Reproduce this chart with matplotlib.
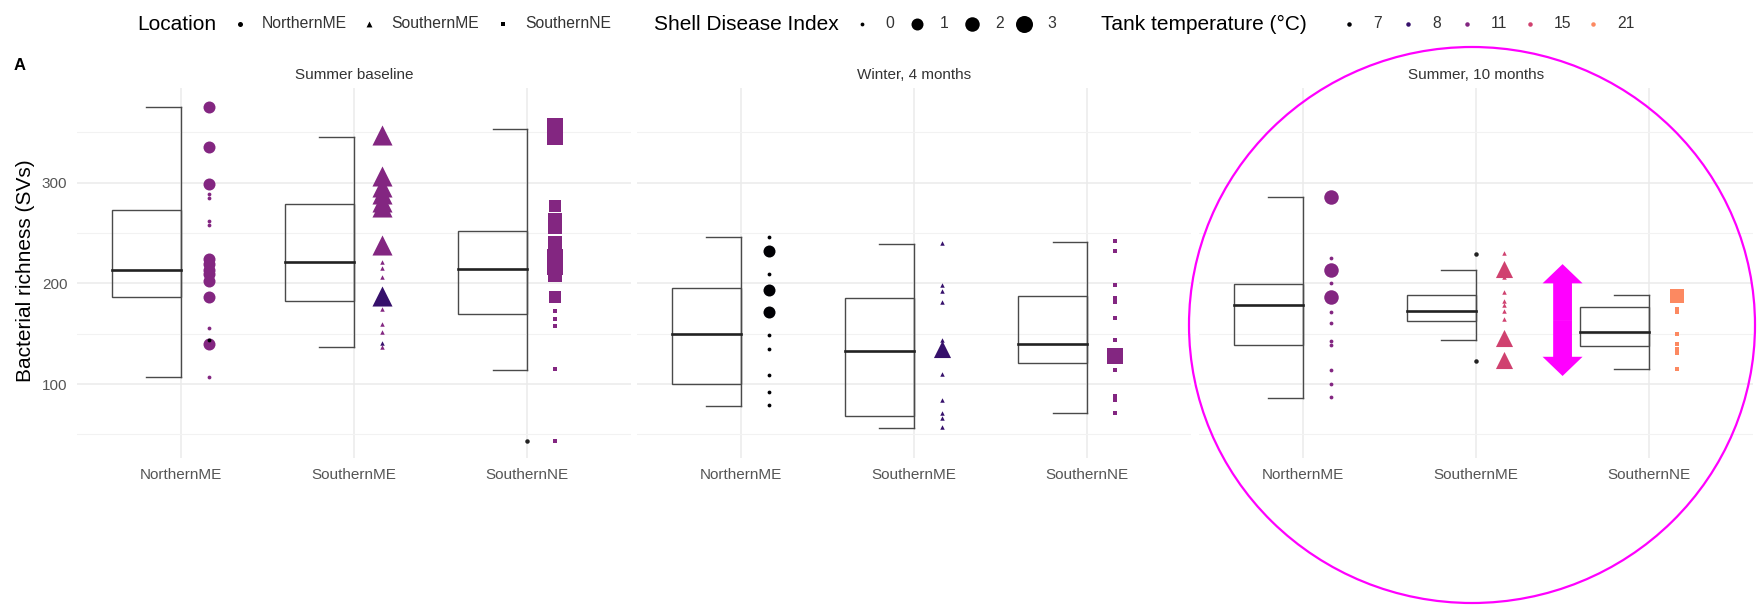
import matplotlib
matplotlib.use("Agg")
import matplotlib.pyplot as plt
from matplotlib.patches import Rectangle, Ellipse
import numpy as np
import pandas as pd

plt.rcParams["font.family"] = ["Liberation Sans", "DejaVu Sans"]

# ---- data -------------------------------------------------------------
panels = ["Summer baseline", "Winter, 4 months", "Summer, 10 months"]
locations = ["NorthernME", "SouthernME", "SouthernNE"]
temps = [7, 8, 11, 15, 21]
sdi_levels = [0, 1, 2, 3]

# half-boxplot stats, rows = panels, cols = locations
box_lo = [[107, 137, 114], [78, 56, 71], [86, 144, 115]]
box_q1 = [[186, 182, 170], [100, 68, 121], [139, 163, 138]]
box_med = [[213, 221, 214], [150, 133, 140], [178, 172, 152]]
box_q3 = [[273, 279, 252], [195, 185, 187], [199, 188, 176]]
box_hi = [[375, 345, 353], [246, 239, 241], [286, 213, 188]]
box_out = [[[], [], [43]], [[], [], []], [[], [229, 123], []]]

# points: (location, richness, shell disease index, tank temperature)
summer_baseline = [
    ("NorthernME", 375, 1, 11), ("NorthernME", 335, 1, 11), ("NorthernME", 299, 1, 11),
    ("NorthernME", 289, 0, 11), ("NorthernME", 285, 0, 11), ("NorthernME", 262, 0, 11),
    ("NorthernME", 258, 0, 11), ("NorthernME", 224, 1, 11), ("NorthernME", 219, 1, 11),
    ("NorthernME", 213, 1, 11), ("NorthernME", 209, 1, 11), ("NorthernME", 202, 1, 11),
    ("NorthernME", 186, 1, 11), ("NorthernME", 156, 0, 11), ("NorthernME", 144, 0, 7),
    ("NorthernME", 140, 1, 11), ("NorthernME", 107, 0, 11),
    ("SouthernME", 347, 3, 11), ("SouthernME", 306, 3, 11), ("SouthernME", 296, 3, 11),
    ("SouthernME", 289, 3, 11), ("SouthernME", 281, 3, 11), ("SouthernME", 276, 3, 11),
    ("SouthernME", 238, 3, 11), ("SouthernME", 221, 0, 11), ("SouthernME", 215, 0, 11),
    ("SouthernME", 206, 0, 11), ("SouthernME", 187, 3, 8), ("SouthernME", 174, 0, 11),
    ("SouthernME", 160, 0, 11), ("SouthernME", 152, 0, 11), ("SouthernME", 141, 0, 8),
    ("SouthernME", 137, 0, 11),
    ("SouthernNE", 356, 3, 11), ("SouthernNE", 345, 3, 11), ("SouthernNE", 277, 1, 11),
    ("SouthernNE", 263, 2, 11), ("SouthernNE", 256, 2, 11), ("SouthernNE", 240, 2, 11),
    ("SouthernNE", 226, 3, 11), ("SouthernNE", 216, 3, 11), ("SouthernNE", 208, 2, 11),
    ("SouthernNE", 186, 1, 11), ("SouthernNE", 172, 0, 11),
    ("SouthernNE", 165, 0, 11), ("SouthernNE", 158, 0, 11), ("SouthernNE", 115, 0, 11),
    ("SouthernNE", 43, 0, 11),
]
winter_4m = [
    ("NorthernME", 246, 0, 7), ("NorthernME", 232, 1, 7), ("NorthernME", 209, 0, 7),
    ("NorthernME", 193, 1, 7), ("NorthernME", 171, 1, 7), ("NorthernME", 149, 0, 7),
    ("NorthernME", 135, 0, 7), ("NorthernME", 109, 0, 7), ("NorthernME", 92, 0, 7),
    ("NorthernME", 79, 0, 7),
    ("SouthernME", 240, 0, 8), ("SouthernME", 198, 0, 8), ("SouthernME", 192, 0, 8),
    ("SouthernME", 181, 0, 8), ("SouthernME", 144, 0, 8), ("SouthernME", 135, 2, 8),
    ("SouthernME", 110, 0, 8), ("SouthernME", 84, 0, 8), ("SouthernME", 71, 0, 8),
    ("SouthernME", 66, 0, 8), ("SouthernME", 57, 0, 8),
    ("SouthernNE", 242, 0, 11), ("SouthernNE", 232, 0, 11), ("SouthernNE", 198, 0, 11),
    ("SouthernNE", 185, 0, 11), ("SouthernNE", 181, 0, 11), ("SouthernNE", 166, 0, 11),
    ("SouthernNE", 144, 0, 11), ("SouthernNE", 128, 3, 11), ("SouthernNE", 114, 0, 11),
    ("SouthernNE", 88, 0, 11), ("SouthernNE", 84, 0, 11), ("SouthernNE", 71, 0, 11),
]
summer_10m = [
    ("NorthernME", 286, 2, 11), ("NorthernME", 225, 0, 11), ("NorthernME", 213, 2, 11),
    ("NorthernME", 200, 0, 11), ("NorthernME", 186, 2, 11), ("NorthernME", 171, 0, 11),
    ("NorthernME", 161, 0, 11), ("NorthernME", 143, 0, 11), ("NorthernME", 139, 0, 11),
    ("NorthernME", 114, 0, 11), ("NorthernME", 100, 0, 11), ("NorthernME", 87, 0, 11),
    ("SouthernME", 230, 0, 15), ("SouthernME", 214, 2, 15), ("SouthernME", 206, 0, 15),
    ("SouthernME", 191, 0, 15), ("SouthernME", 182, 0, 15), ("SouthernME", 178, 0, 15),
    ("SouthernME", 172, 0, 15), ("SouthernME", 165, 0, 15), ("SouthernME", 146, 2, 15),
    ("SouthernME", 124, 2, 15),
    ("SouthernNE", 187, 2, 21), ("SouthernNE", 174, 0, 21), ("SouthernNE", 171, 0, 21),
    ("SouthernNE", 150, 0, 21), ("SouthernNE", 140, 0, 21), ("SouthernNE", 135, 0, 21),
    ("SouthernNE", 131, 0, 21), ("SouthernNE", 115, 0, 21),
]
panel_points = [summer_baseline, winter_4m, summer_10m]

# highlighted spread in the last panel
arrow_x, arrow_low, arrow_high = 1.5, 108, 219

# ---- styling ----------------------------------------------------------
W, H = 1758, 605
cmap = plt.get_cmap("magma")
temp_colors = dict(zip(temps, cmap(np.linspace(0, 0.75, len(temps)))))
shapes = dict(zip(locations, ["o", "^", "s"]))
shape_scale = {"o": 1.0, "^": 1.18, "s": 0.95}
sdi_px = {0: 3.8, 1: 12, 2: 14.5, 3: 17}


def size_of(px):
    return (px * 0.72) ** 2


fig = plt.figure(figsize=(W / 100, H / 100), dpi=100)

panel_left = [77, 637, 1199]
panel_w, panel_top, panel_bottom = 554, 88, 458
box_w, pt_off = 0.4, 0.16

for p, title in enumerate(panels):
    ax = fig.add_axes([panel_left[p] / W, 1 - panel_bottom / H,
                       panel_w / W, (panel_bottom - panel_top) / H])
    ax.set_xlim(-0.6, 2.6)
    ax.set_ylim(26.6, 393.8)
    ax.set_xticks(range(len(locations)))
    ax.set_xticklabels(locations, fontsize=11, color="#555555")
    ax.set_yticks([100, 200, 300])
    ax.set_yticks([50, 150, 250, 350], minor=True)
    ax.tick_params(which="both", length=0, pad=7, labelsize=11, labelcolor="#555555")
    if p > 0:
        ax.set_yticklabels([])
    ax.grid(which="major", color="#ebebeb", lw=1.1)
    ax.grid(which="minor", axis="y", color="#f2f2f2", lw=0.8)
    ax.set_axisbelow(True)
    for s in ax.spines.values():
        s.set_visible(False)
    ax.text(0.5, 1 + 13 / 370, title, transform=ax.transAxes, ha="center",
            va="center", fontsize=11, color="#333333")

    for i, loc in enumerate(locations):
        lo, q1, med, q3, hi = (box_lo[p][i], box_q1[p][i], box_med[p][i],
                               box_q3[p][i], box_hi[p][i])
        ax.add_patch(Rectangle((i - box_w, q1), box_w, q3 - q1, fill=False,
                               ec="#4a4a4a", lw=1.0, zorder=2))
        ax.plot([i - box_w, i], [med, med], color="#222222", lw=1.9, zorder=3)
        ax.plot([i, i], [lo, hi], color="#4a4a4a", lw=1.0, zorder=2)
        ax.plot([i - box_w / 2, i], [lo, lo], color="#4a4a4a", lw=1.0, zorder=2)
        ax.plot([i - box_w / 2, i], [hi, hi], color="#4a4a4a", lw=1.0, zorder=2)
        if box_out[p][i]:
            ax.scatter([i] * len(box_out[p][i]), box_out[p][i], s=size_of(4.5),
                       color="#222222", lw=0, zorder=3)

    df = pd.DataFrame(panel_points[p], columns=["loc", "value", "sdi", "temp"])
    df = df.sort_values("sdi", ascending=False)
    for _, r in df.iterrows():
        i = locations.index(r["loc"])
        m = shapes[r["loc"]]
        ax.scatter(i + pt_off, r["value"], marker=m,
                   s=size_of(sdi_px[r["sdi"]] * shape_scale[m]),
                   color=temp_colors[r["temp"]], lw=0, zorder=4)

    if p == 2:
        mid = (arrow_low + arrow_high) / 2
        for end in (arrow_low, arrow_high):
            ax.annotate("", xy=(arrow_x, end), xytext=(arrow_x, mid),
                        arrowprops=dict(arrowstyle="simple,head_length=0.48,head_width=1.0,tail_width=0.47",
                                        mutation_scale=28.8, color="#ff00ff", lw=0,
                                        shrinkA=0, shrinkB=0), zorder=6)

fig.text(26 / W, 1 - 271 / H, "Bacterial richness (SVs)", rotation=90,
         ha="center", va="center", fontsize=15, color="black")

# ---- overlay: legend row, panel tag, highlight circle -----------------
ov = fig.add_axes([0, 0, 1, 1], zorder=10)
ov.set_xlim(0, W)
ov.set_ylim(H, 0)
ov.axis("off")

ov.text(14, 66, "A", fontsize=12, fontweight="bold", ha="left", va="center")

ly = 24
lab_kw = dict(fontsize=11.3, color="#333333", ha="left", va="center")
ov.text(137, ly, "Location", fontsize=15, ha="left", va="center")
for loc, kx in zip(locations, [240, 369, 503]):
    m = shapes[loc]
    ov.scatter(kx, ly, marker=m, s=size_of(5 * shape_scale[m]), color="black", lw=0)
    ov.text(kx + 22, ly, loc, **lab_kw)

ov.text(654, ly, "Shell Disease Index", fontsize=15, ha="left", va="center")
for lvl, kx in zip(sdi_levels, [862, 917, 972, 1024]):
    ov.scatter(kx, ly, marker="o", s=size_of(sdi_px[lvl]), color="black", lw=0)
    ov.text(kx + 23, ly, str(lvl), **lab_kw)

ov.text(1101, ly, "Tank temperature (°C)", fontsize=15, ha="left", va="center")
for t, kx in zip(temps, [1349, 1408, 1467, 1530, 1593]):
    ov.scatter(kx, ly, marker="o", s=size_of(4.5), color=temp_colors[t], lw=0)
    ov.text(kx + 24, ly, str(t), **lab_kw)

ov.add_patch(Ellipse((1472, 325), 566, 556, fill=False, ec="#ff00ff", lw=1.6,
                     clip_on=False))

fig.savefig("out.png", dpi=100, facecolor="white")
